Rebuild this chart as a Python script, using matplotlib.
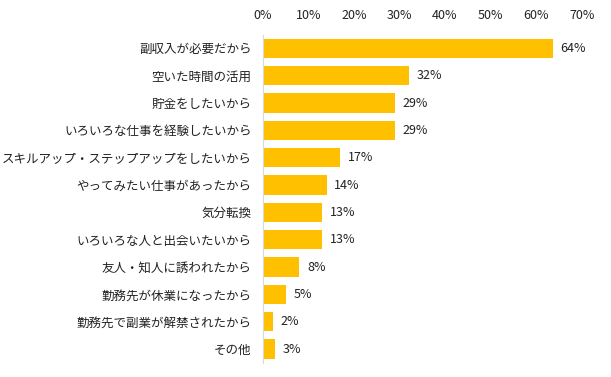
import numpy as np
import matplotlib.pyplot as plt

plt.rcParams['font.family'] = ['Noto Sans CJK JP', 'DejaVu Sans']

labels = ['副収入が必要だから', '空いた時間の活用', '貯金をしたいから',
          'いろいろな仕事を経験したいから', 'スキルアップ・ステップアップをしたいから',
          'やってみたい仕事があったから', '気分転換', 'いろいろな人と出会いたいから',
          '友人・知人に誘われたから', '勤務先が休業になったから',
          '勤務先で副業が解禁されたから', 'その他']
values = [63.6, 32, 29, 29, 17, 14, 13, 13, 8, 5, 2.2, 2.7]
shown = [64, 32, 29, 29, 17, 14, 13, 13, 8, 5, 2, 3]
ticks = [0, 10, 20, 30, 40, 50, 60, 70]

fig = plt.figure(figsize=(6.11, 3.77), dpi=100)
ax = fig.add_axes([0.430, 0.038, 0.522, 0.870])

y = np.arange(len(labels))
ax.barh(y, values, height=0.70, color='#FFC000')
for yi, v, s in zip(y, values, shown):
    ax.text(v + 1.7, yi, f'{s}%', va='center', ha='left', fontsize=9, color='#222222')

ax.set_xlim(0, 70)
ax.set_ylim(len(labels) - 0.5, -0.5)
ax.set_yticks(y)
ax.set_yticklabels(labels, fontsize=9, color='#222222')
ax.set_xticks(ticks)
ax.set_xticklabels([f'{t}%' for t in ticks], fontsize=9, color='#222222')
ax.xaxis.tick_top()
ax.tick_params(length=0, pad=8)
ax.tick_params(axis='x', pad=9)
for s in ['top', 'right', 'bottom']:
    ax.spines[s].set_visible(False)
ax.spines['left'].set_color('#d9d9d9')

fig.savefig('out.png', dpi=100)
